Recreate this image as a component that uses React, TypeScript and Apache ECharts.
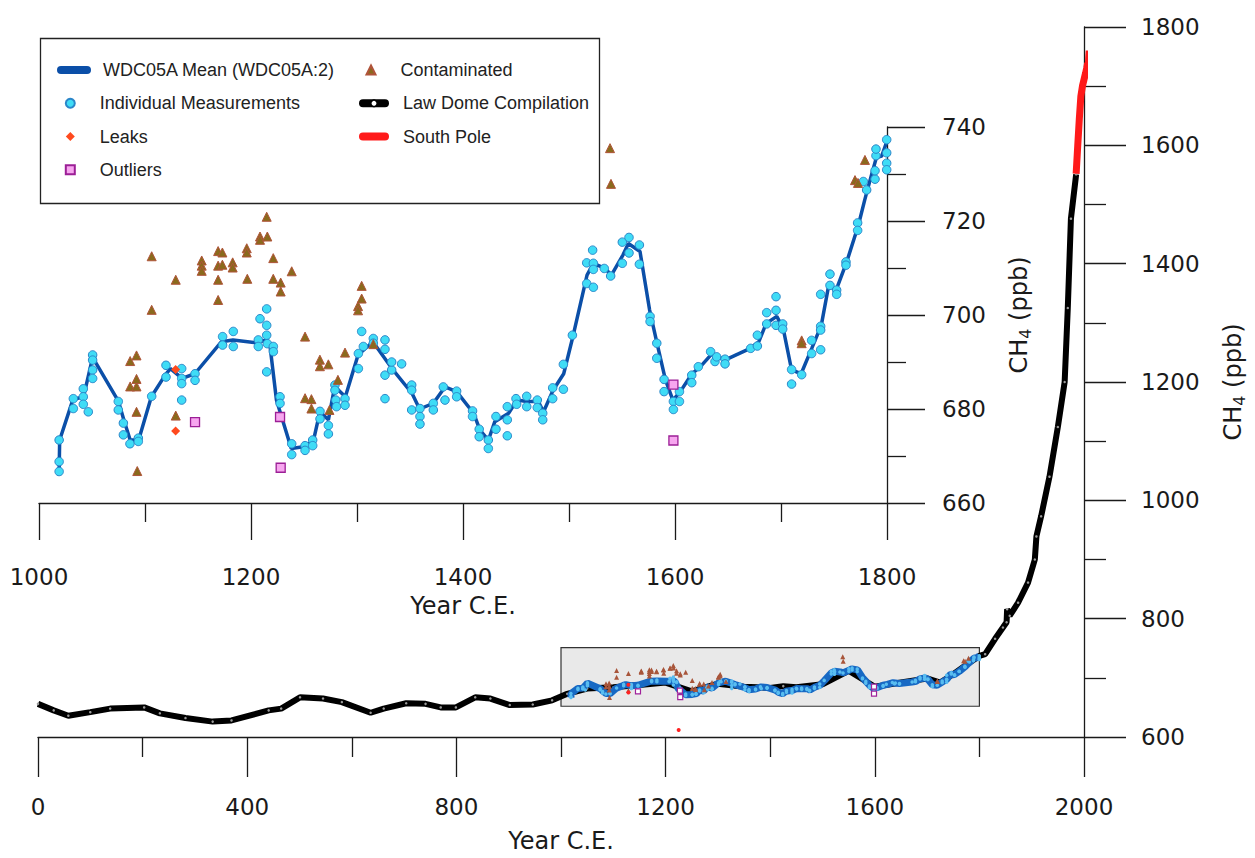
import React, { useEffect, useRef } from "react";
import * as echarts from "echarts";

// ---------------- DATA ----------------
const mainXTicks = [0, 400, 800, 1200, 1600, 2000];
const insetXTicks = [1000, 1200, 1400, 1600, 1800];

// WDC05A mean (year, ppb)
const wdcMean: number[][] = [
  [1019, 666.7], [1019.5, 673.4], [1032, 682], [1042, 682.6], [1050.6, 691], [1075, 681.6], [1080, 677.7],
  [1086, 673.4], [1094, 673.4], [1106, 682.6], [1119, 687.2], [1124, 688.6], [1135, 686.5], [1147, 687.5],
  [1172, 694.3], [1183, 694.7], [1205, 694.1], [1215, 694.7], [1218, 693.3], [1224, 681.9], [1238, 671.6],
  [1251, 672], [1259, 673.4], [1265, 679.4], [1273, 677.7], [1279, 684.8], [1289, 682.6], [1301, 691.5],
  [1315, 694.3], [1333, 688.6], [1352, 683.3], [1359, 680], [1372, 681.2], [1383, 684.7], [1394, 683.7],
  [1410, 679.1], [1416, 675.5], [1424, 673.4], [1430, 677.3], [1443, 679.1], [1451, 681.9], [1460, 681.6],
  [1471, 681.6], [1476, 679.4], [1485, 684], [1495, 687.5], [1504, 695.7], [1517, 708.5], [1523, 711],
  [1534, 709.9], [1540, 708.5], [1551, 712.8], [1556, 715.2], [1567, 713.5], [1576, 701.1], [1583, 694],
  [1591, 686.2], [1598, 681.9], [1605, 683.7], [1616, 687.5], [1624, 689], [1635, 691.8], [1647, 690.4],
  [1671, 692.9], [1679, 694.3], [1686, 698.2], [1696, 699.7], [1702, 697.2], [1710, 688.3], [1719, 687.5],
  [1729, 692.9], [1738, 697.8], [1745, 706.3], [1752, 705.3], [1762, 711.3], [1773, 719.1], [1779, 724.5],
  [1785, 729.5], [1790, 733.5], [1795, 733.8], [1800, 737],
];

const individual: number[][] = [
  [1019, 666.7], [1019, 668.8], [1019, 673.4],
  [1032.4, 682.2], [1032.4, 680.1], [1041.8, 684.3], [1041.8, 682.6], [1041.8, 681], [1046.5, 679.4],
  [1050.6, 691.5], [1050.6, 690.4], [1050.6, 688.3], [1050.6, 686.5],
  [1074.8, 681.6], [1074.8, 679.8], [1079.6, 677], [1079.6, 674.5], [1085.8, 672.6], [1093.7, 673.8], [1093.7, 673.1],
  [1106.3, 682.7], [1119.8, 689.3], [1119.8, 686.8],
  [1134.6, 688.6], [1134.6, 686.5], [1134.6, 685.4], [1134.6, 681.9], [1147.2, 687.5], [1147.2, 686.1],
  [1173.2, 695.4], [1173.2, 693.6], [1183.3, 696.5], [1183.3, 693.3],
  [1206.9, 694.7], [1206.9, 693.3], [1208.5, 699.2], [1214.8, 701.3], [1214.8, 697.8], [1214.8, 695.7],
  [1215.4, 693.9], [1221.1, 693.3], [1221.1, 692.2], [1214.8, 687.9],
  [1227.4, 682.6], [1227.4, 681.2], [1238.4, 672.6], [1238.4, 670.3],
  [1251, 672.2], [1251, 671.2], [1258.2, 673.4], [1258.2, 672.2],
  [1265.1, 679.5], [1265.1, 677.9], [1273, 676.5], [1273, 674.7],
  [1279.2, 685.1], [1279.2, 684], [1280, 681.9], [1280.7, 680.5], [1288.7, 682.2], [1288.7, 680.8],
  [1301.3, 691.8], [1301.3, 688.6], [1304.4, 696.5], [1306, 693.3], [1315.4, 695], [1315.4, 694],
  [1326.4, 694.7], [1326.4, 692.7], [1326.4, 687.2], [1326.4, 682.2], [1332.7, 688.3], [1332.7, 690], [1342.1, 689.6],
  [1351.6, 685.1], [1351.6, 684], [1351.6, 679.8], [1359.4, 680.1], [1359.4, 678.4], [1359.4, 676.8],
  [1372, 681.2], [1372, 679.8], [1381.4, 684.7], [1383, 681.9], [1394, 683.8], [1394, 682.6],
  [1409, 679.6], [1409, 678.4], [1415.3, 675.7], [1415.3, 674.1], [1423.9, 673.4], [1423.9, 671.6],
  [1431.1, 678.4], [1431.1, 675.7], [1441.8, 680.5], [1441.8, 677.7], [1441.8, 674.3],
  [1450, 682.2], [1450.6, 681], [1460.1, 682.7], [1460.1, 680.5], [1470.1, 681.9], [1470.1, 680.3],
  [1475.2, 679.1], [1475.2, 677.7], [1484.6, 684.5], [1484.6, 682.2], [1494.7, 689.5], [1494.7, 684.2], [1503.2, 695.7],
  [1516.7, 711.1], [1516.7, 706.7], [1522.3, 713.8], [1523, 711], [1523, 709.7], [1523, 705.9], [1533.3, 709.9], [1539.3, 708.3],
  [1550.3, 715.5], [1550.3, 711], [1556.6, 716.5], [1556.6, 713.2], [1566.4, 714.9], [1566.4, 710.8],
  [1576.5, 699.7], [1576.5, 698.6], [1582.8, 694], [1582.8, 690.8], [1589.7, 686.3], [1589.7, 683.7],
  [1598.5, 681.6], [1598.5, 679.9], [1604.2, 683.7], [1604.2, 681.6], [1615.8, 687.2], [1615.8, 685.6], [1622, 689],
  [1633.6, 692.2], [1637.7, 690.1], [1639.3, 691.1], [1647.2, 690.6], [1647.2, 689.6],
  [1671.4, 692.9], [1677.7, 695.7], [1677.7, 693.4], [1686.5, 700.5], [1686.5, 698.1],
  [1695.3, 703.9], [1695.3, 701], [1695.3, 697.8], [1701.6, 698.1], [1701.6, 697],
  [1710, 688.4], [1710, 685.3], [1719.5, 687.3], [1728.9, 694.6], [1728.9, 691.8],
  [1737.4, 697.6], [1737.4, 692.6], [1737.4, 696.8], [1737.4, 704.4], [1746.2, 708.7], [1746.2, 706.3],
  [1752.5, 705.3], [1752.5, 704.4], [1761.3, 711.3], [1761.3, 710.6], [1772.3, 719.6], [1772.3, 718],
  [1777.7, 728.4], [1780.8, 726.6], [1788.7, 728.9], [1788.7, 730.7], [1789.6, 733.9], [1789.6, 735.3],
  [1799.7, 737.3], [1799.7, 734.5], [1799.7, 732.3], [1799.7, 730.9],
];

const contaminated: number[][] = [
  [1092.7, 666.8], [1092, 679.4], [1086, 684.8], [1092, 684.8], [1092, 686.4], [1086, 690.2], [1092, 691.4],
  [1106.3, 701.1], [1106.3, 712.5], [1129, 707.5], [1129, 678.6], [1153.5, 711.6], [1153.5, 710.5], [1153.5, 709.4],
  [1169, 713.6], [1173, 713.3], [1169, 710.5], [1173, 710.7], [1182.7, 711.2], [1182.7, 710.1], [1169, 707.5],
  [1169, 703.2], [1196, 714.2], [1196, 713.3], [1196.5, 707.7], [1208.5, 716.7], [1208.5, 716], [1215.4, 716.7],
  [1214.8, 720.9], [1221, 712.1], [1221, 707.7], [1228, 706.9], [1228, 705], [1238.4, 709.3], [1251, 695.4],
  [1251, 682.3], [1257, 682.1], [1257, 680.1], [1265, 690.5], [1265, 689.1], [1273, 689.5], [1274, 679.8],
  [1282, 686.2], [1288.7, 692], [1301, 701.9], [1301, 701], [1304.4, 706.2], [1304.4, 703.5], [1315.4, 693.8],
  [1538.7, 735.5], [1539.6, 727.9], [1719.5, 694.6], [1719.5, 694], [1769.8, 728.7], [1772.6, 728.1], [1779.2, 733],
];

const leaks: number[][] = [[1128.9, 688.4], [1128.9, 675.3], [1225, 612]];

const outliers: number[][] = [[1147.2, 677.2], [1227.4, 678.3], [1228, 667.5], [1598.5, 685.2], [1598.5, 673.3]];

const lawDome: number[][] = [
  [0, 656], [30, 645], [58, 636], [100, 642], [138, 648], [203, 650], [233, 640], [282, 632], [334, 626],
  [370, 628], [441, 645], [465, 648], [501, 667], [545, 665], [581, 659], [636, 641], [661, 648], [704, 657],
  [741, 656], [770, 650], [799, 650], [836, 667], [865, 665], [902, 654], [946, 655], [983, 662], [1012, 673],
  [1050, 682], [1100, 684], [1150, 688], [1200, 692], [1250, 677], [1300, 690], [1350, 685], [1400, 683],
  [1425, 686], [1450, 684], [1500, 689], [1550, 712], [1600, 685], [1650, 692], [1700, 699], [1725, 692],
  [1750, 706], [1780, 725], [1800, 737], [1811, 740], [1830, 766], [1845, 785], [1852, 794], [1853, 816],
  [1858, 805], [1874, 827], [1893, 861], [1906, 900], [1909, 939], [1918, 973], [1934, 1040], [1950, 1124],
  [1963, 1200], [1969, 1325], [1975, 1476], [1985, 1551],
];

const southPole: number[][] = [
  [1985, 1552], [1988, 1599], [1991, 1644], [1994, 1683], [1997, 1700], [2000, 1711], [2003, 1722],
  [2005, 1730], [2007, 1739], [2008, 1731], [2009, 1748], [2010, 1760], [2011, 1745], [2012, 1755],
];

const insetBox = { x0: 1000, x1: 1800, y0: 652, y1: 751 };

// ---------------- STYLE ----------------
const AX_FONT = "DejaVu Sans";
const LG_FONT = "Liberation Sans";
const INK = "#1a1a1a";

const NAME_MEAN = "WDC05A Mean (WDC05A:2)";
const NAME_IND = "Individual Measurements";
const NAME_LEAK = "Leaks";
const NAME_OUT = "Outliers";
const NAME_CONT = "Contaminated";
const NAME_LAW = "Law Dome Compilation";
const NAME_SP = "South Pole";

const axisLabelStyle = (margin: number) => ({
  margin,
  fontFamily: AX_FONT,
  fontSize: 23,
  color: INK,
  formatter: (v: number) => String(v),
});

const nameStyle = {
  fontFamily: AX_FONT,
  fontSize: 24,
  color: INK,
  rich: {
    sub: { fontFamily: AX_FONT, fontSize: 16, color: INK, padding: [12, 0, 0, 0] },
  },
};

const lineSt = { color: INK, width: 1.3 };

function buildOption(): any {
  const legendText = { fontFamily: LG_FONT, fontSize: 18, color: "#222", lineHeight: 20 };
  const legendBase = { orient: "vertical", padding: 0, selectedMode: false, itemGap: 13.2 };
  return {
    animation: false,
    textStyle: { fontFamily: AX_FONT },
    grid: [
      { left: 38, right: 162, top: 27, bottom: 116 },
      { left: 39, right: 368, top: 127, bottom: 355 },
    ],
    xAxis: [
      {
        gridIndex: 0, type: "value", min: 0, max: 2000, interval: 400,
        axisLine: { show: true, onZero: false, lineStyle: lineSt },
        axisTick: { show: true, length: 40, lineStyle: lineSt },
        minorTick: { show: true, splitNumber: 2, length: 20, lineStyle: lineSt },
        splitLine: { show: false },
        axisLabel: { ...axisLabelStyle(58), formatter: (v: number) => (mainXTicks.includes(v) ? String(v) : "") },
        name: "Year C.E.", nameLocation: "middle", nameGap: 92, nameTextStyle: nameStyle,
      },
      {
        gridIndex: 1, type: "value", min: 1000, max: 1800, interval: 200,
        axisLine: { show: true, onZero: false, lineStyle: lineSt },
        axisTick: { show: true, length: 37, lineStyle: lineSt },
        minorTick: { show: true, splitNumber: 2, length: 19, lineStyle: lineSt },
        splitLine: { show: false },
        axisLabel: { ...axisLabelStyle(62), formatter: (v: number) => (insetXTicks.includes(v) ? String(v) : "") },
        name: "Year C.E.", nameLocation: "middle", nameGap: 91, nameTextStyle: nameStyle,
      },
    ],
    yAxis: [
      {
        gridIndex: 0, type: "value", position: "right", min: 600, max: 1800, interval: 200,
        axisLine: { show: true, onZero: false, lineStyle: lineSt },
        axisTick: { show: true, length: 42, lineStyle: lineSt },
        minorTick: { show: true, splitNumber: 2, length: 22, lineStyle: lineSt },
        splitLine: { show: false },
        axisLabel: axisLabelStyle(57),
        name: "CH{sub|4} (ppb)", nameLocation: "middle", nameGap: 135, nameTextStyle: nameStyle,
      },
      {
        gridIndex: 1, type: "value", position: "right", min: 660, max: 740, interval: 20,
        axisLine: { show: true, onZero: false, lineStyle: lineSt },
        axisTick: { show: true, length: 38, lineStyle: lineSt },
        minorTick: { show: true, splitNumber: 2, length: 19, lineStyle: lineSt },
        splitLine: { show: false },
        axisLabel: axisLabelStyle(55),
        name: "CH{sub|4} (ppb)", nameLocation: "middle", nameGap: 118, nameTextStyle: nameStyle,
      },
    ],
    legend: [
      {
        ...legendBase, left: 57, top: 60, itemWidth: 26, itemHeight: 8,
        textStyle: { ...legendText, padding: [0, 0, 0, 11] },
        data: [{ name: NAME_MEAN, lineStyle: { width: 8, cap: "round" } }],
      },
      {
        ...legendBase, left: 64.8, top: 93.3, itemWidth: 9, itemHeight: 9,
        textStyle: { ...legendText, padding: [0, 0, 0, 20] },
        data: [NAME_IND, NAME_LEAK, NAME_OUT],
      },
      {
        ...legendBase, left: 365.5, top: 60, itemWidth: 9, itemHeight: 9,
        textStyle: { ...legendText, padding: [0, 0, 0, 20] },
        data: [NAME_CONT],
      },
      {
        ...legendBase, left: 359, top: 93.3, itemWidth: 22, itemHeight: 8,
        textStyle: { ...legendText, padding: [0, 0, 0, 13] },
        data: [
          { name: NAME_LAW, lineStyle: { width: 8, cap: "round" }, itemStyle: { color: "#ffffff", borderColor: "#000", borderWidth: 1.5 } },
          { name: NAME_SP, lineStyle: { width: 8, cap: "round" } },
        ],
      },
    ],
    graphic: [
      {
        type: "rect", z: 10, silent: true,
        shape: { x: 40.5, y: 38.5, width: 559, height: 165 },
        style: { fill: "none", stroke: "#222", lineWidth: 1.3 },
      },
    ],
    series: [
      // ---------- inset ----------
      {
        name: NAME_MEAN, type: "line", xAxisIndex: 1, yAxisIndex: 1, data: wdcMean, symbol: "none", z: 3,
        lineStyle: { color: "#0b4fa8", width: 3.5 }, itemStyle: { color: "#0b4fa8" },
      },
      {
        name: NAME_IND, type: "scatter", xAxisIndex: 1, yAxisIndex: 1, data: individual, symbol: "circle", symbolSize: 8.5, z: 4,
        itemStyle: { color: "#3fdcf6", borderColor: "#2a86c9", borderWidth: 1, opacity: 1 },
      },
      {
        name: NAME_CONT, type: "scatter", xAxisIndex: 1, yAxisIndex: 1, data: contaminated, symbol: "triangle", symbolSize: 9, z: 4,
        itemStyle: { color: "#8a6a1c", borderColor: "#b0543a", borderWidth: 1, opacity: 1 },
      },
      {
        name: NAME_LEAK, type: "scatter", xAxisIndex: 1, yAxisIndex: 1, data: leaks, symbol: "diamond", symbolSize: 9, z: 5,
        itemStyle: { color: "#ff4a1e", opacity: 1 },
      },
      {
        name: NAME_OUT, type: "scatter", xAxisIndex: 1, yAxisIndex: 1, data: outliers, symbol: "rect", symbolSize: 9, z: 5,
        itemStyle: { color: "#f7a6ef", borderColor: "#9c1f96", borderWidth: 1.3, opacity: 1 },
      },
      // ---------- main ----------
      {
        name: "inset-box", type: "line", xAxisIndex: 0, yAxisIndex: 0, data: [], z: 0, silent: true,
        markArea: {
          silent: true,
          itemStyle: { color: "#e9e9e9", borderColor: "#333", borderWidth: 1.2 },
          data: [[{ xAxis: insetBox.x0, yAxis: insetBox.y0 }, { xAxis: insetBox.x1, yAxis: insetBox.y1 }]],
        },
      },
      {
        name: NAME_LAW, type: "line", xAxisIndex: 0, yAxisIndex: 0, data: lawDome, z: 2,
        symbol: "circle", symbolSize: 2.5, showAllSymbol: true,
        lineStyle: { color: "#000", width: 6 }, itemStyle: { color: "#9a9a9a" },
      },
      {
        name: NAME_SP, type: "line", xAxisIndex: 0, yAxisIndex: 0, data: southPole, z: 3, clip: false,
        symbol: "none", lineStyle: { color: "#ff1a1a", width: 7 }, itemStyle: { color: "#ff1a1a" },
      },
      {
        name: NAME_MEAN, type: "line", xAxisIndex: 0, yAxisIndex: 0, data: wdcMean, symbol: "none", z: 3,
        lineStyle: { color: "#1769c4", width: 7 },
      },
      {
        name: NAME_IND, type: "scatter", xAxisIndex: 0, yAxisIndex: 0, data: individual, symbolSize: 3.5, z: 4,
        itemStyle: { color: "#59bdf0", opacity: 1 },
      },
      {
        name: NAME_CONT, type: "scatter", xAxisIndex: 0, yAxisIndex: 0, data: contaminated, symbol: "triangle", symbolSize: 5, z: 4,
        itemStyle: { color: "#a8553a", opacity: 1 },
      },
      {
        name: NAME_LEAK, type: "scatter", xAxisIndex: 0, yAxisIndex: 0, data: leaks, symbol: "circle", symbolSize: 4, z: 5,
        itemStyle: { color: "#ff2222", opacity: 1 },
      },
      {
        name: NAME_OUT, type: "scatter", xAxisIndex: 0, yAxisIndex: 0, data: outliers, symbol: "rect", symbolSize: 5, z: 5,
        itemStyle: { color: "#ffffff", borderColor: "#a0229a", borderWidth: 1.2, opacity: 1 },
      },
    ],
  };
}

export default function App() {
  const ref = useRef<HTMLDivElement>(null);
  useEffect(() => {
    if (!ref.current) return;
    const chart = echarts.init(ref.current, undefined, { renderer: "svg" });
    chart.setOption(buildOption());
    return () => chart.dispose();
  }, []);
  return (
    <div
      ref={ref}
      style={{ position: "absolute", left: 0, top: 0, width: 1255, height: 858, background: "#fff" }}
    />
  );
}
